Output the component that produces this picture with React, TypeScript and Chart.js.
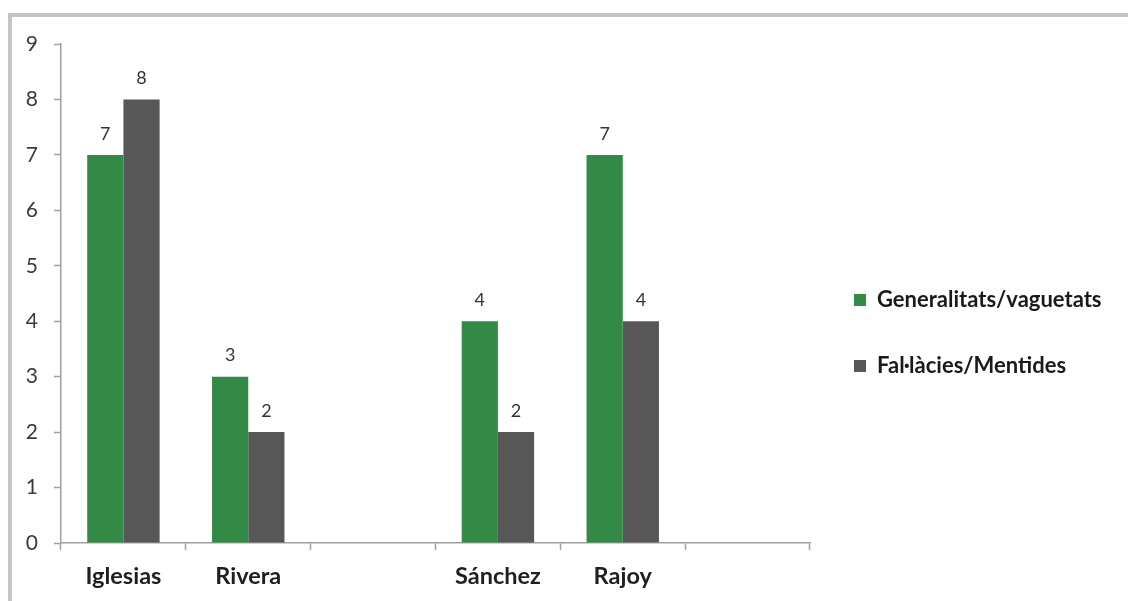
import React, { useEffect, useRef } from 'react';
import { Chart, registerables } from 'chart.js';

Chart.register(...registerables);

// ---- data ----
const categories: string[] = ['Iglesias', 'Rivera', '', 'Sánchez', 'Rajoy', ''];
const seriesNames: string[] = ['Generalitats/vaguetats', 'Fal·làcies/Mentides'];
const generalitats: (number | null)[] = [7, 3, null, 4, 7, null];
const fallacies: (number | null)[] = [8, 2, null, 2, 4, null];
const yMin = 0;
const yMax = 9;
const yStep = 1;

// ---- styles ----
const FONT = 'Lato, "Open Sans", sans-serif';
const GREEN = '#338a47';
const GRAY = '#575757';
const AXIS = '#a0a0a0';
const W = 1128;
const H = 622;
const LEGEND_FONT_SIZE = 22;
const LEGEND_BOX = 12;
const LEGEND_PAD = 44;
const PAD_RIGHT = 20;
const CHART_RIGHT = 810;

const valueLabels = {
  id: 'valueLabels',
  afterDatasetsDraw(chart: any) {
    const ctx = chart.ctx;
    ctx.save();
    ctx.font = `18px ${FONT}`;
    ctx.fillStyle = '#333333';
    ctx.textAlign = 'center';
    ctx.textBaseline = 'middle';
    chart.data.datasets.forEach((ds: any, i: number) => {
      const meta = chart.getDatasetMeta(i);
      meta.data.forEach((el: any, j: number) => {
        const v = ds.data[j];
        if (v === null || v === undefined) return;
        ctx.fillText(String(v), el.x, el.y - 21);
      });
    });
    ctx.restore();
  },
};

export default function App() {
  const canvasRef = useRef<HTMLCanvasElement | null>(null);

  useEffect(() => {
    if (!canvasRef.current) return;
    const chart = new Chart(canvasRef.current, {
      type: 'bar',
      data: {
        labels: categories,
        datasets: [
          {
            label: seriesNames[0],
            data: generalitats,
            backgroundColor: GREEN,
            borderWidth: 0,
            categoryPercentage: 0.58,
            barPercentage: 1,
          },
          {
            label: seriesNames[1],
            data: fallacies,
            backgroundColor: GRAY,
            borderWidth: 0,
            categoryPercentage: 0.58,
            barPercentage: 1,
          },
        ],
      },
      options: {
        responsive: false,
        animation: false,
        layout: { padding: { top: 44, left: 0, right: PAD_RIGHT, bottom: 0 } },
        plugins: {
          tooltip: { enabled: false },
          legend: {
            position: 'right',
            align: 'center',
            maxWidth: W - PAD_RIGHT - CHART_RIGHT,
            labels: {
              boxWidth: LEGEND_BOX,
              boxHeight: LEGEND_BOX,
              padding: LEGEND_PAD,
              color: '#1a1a1a',
              font: { family: FONT, size: LEGEND_FONT_SIZE, weight: 'bold' },
            },
          },
        },
        scales: {
          x: {
            grid: {
              display: true,
              drawOnChartArea: false,
              drawTicks: true,
              tickLength: 7,
              tickColor: AXIS,
              tickWidth: 1.5,
              offset: true,
            },
            border: { display: true, color: AXIS, width: 1.5 },
            ticks: {
              color: '#1f1f1f',
              padding: 12,
              font: { family: FONT, size: 23.5, weight: 'bold' },
              maxRotation: 0,
              autoSkip: false,
            },
            afterFit: (scale: any) => {
              scale.height = 79;
            },
          },
          y: {
            min: yMin,
            max: yMax,
            ticks: {
              stepSize: yStep,
              color: '#3a3a3a',
              padding: 16,
              font: { family: FONT, size: 21 },
            },
            grid: {
              display: true,
              drawOnChartArea: false,
              drawTicks: true,
              tickLength: 7,
              tickColor: AXIS,
              tickWidth: 1.5,
            },
            border: { display: true, color: AXIS, width: 1.5 },
            afterFit: (scale: any) => {
              scale.width = 61;
            },
          },
        },
      },
      plugins: [valueLabels],
    });
    return () => chart.destroy();
  }, []);

  return (
    <div
      style={{
        position: 'fixed',
        left: 0,
        top: 0,
        width: W,
        height: 601,
        overflow: 'hidden',
        background: '#ffffff',
      }}
    >
      <div
        style={{
          position: 'absolute',
          left: 8,
          top: 13,
          width: W + 20,
          height: 700,
          borderTop: '4px solid #c4c4c4',
          borderLeft: '4px solid #c4c4c4',
        }}
      />
      <canvas
        ref={canvasRef}
        width={W}
        height={H}
        style={{ position: 'absolute', left: 0, top: 0, width: W, height: H }}
      />
    </div>
  );
}
